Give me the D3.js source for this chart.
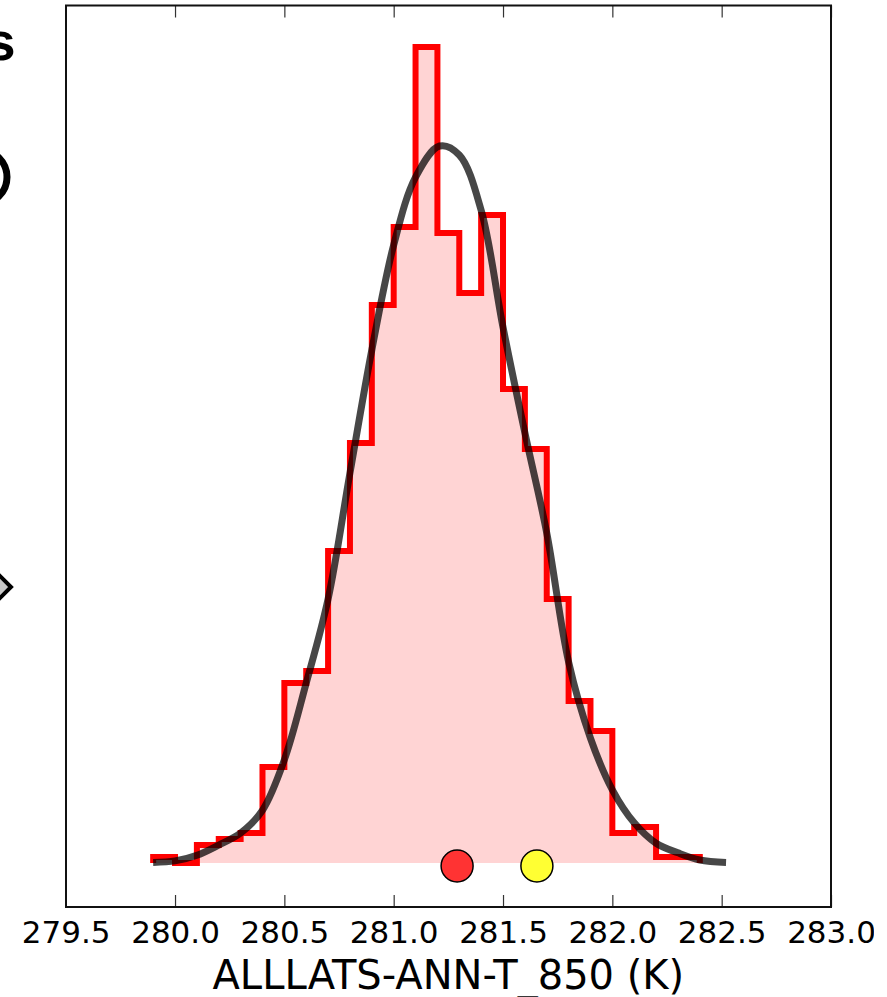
<!DOCTYPE html>
<html><head><meta charset="utf-8">
<script src="https://cdn.jsdelivr.net/npm/d3@7"></script>
<style>html,body{margin:0;padding:0;background:#fff;} svg{display:block;}</style>
</head><body>
<script>
// ---- data ----
const binEdges = [279.9,280.0,280.1,280.2,280.3,280.4,280.5,280.6,280.7,280.8,280.9,281.0,281.1,281.2,281.3,281.4,281.5,281.6,281.7,281.8,281.9,282.0,282.1,282.2,282.3,282.4];
const binCounts = [1,0,3,4,5,16,30,32,52,70,93,106,136,105,95,108,79,69,44,27,22,5,6,1,1];
const fitX = [279.9,280.0,280.1,280.2,280.3,280.4,280.5,280.6,280.7,280.8,280.9,281.0,281.1,281.21,281.3,281.4,281.5,281.6,281.7,281.8,281.9,282.0,282.1,282.2,282.3,282.4,282.52];
const fitY = [0.1,0.35,1.3,3.0,5.0,8.8,17.2,30.0,44.0,65.0,85.5,103.0,114.3,119.5,118.0,108.8,89.3,71.7,55.0,33.5,20.8,12.2,6.7,3.3,1.7,0.5,0.1];
const markerX = [281.29, 281.655];
const markerY = [-0.5, -0.5];
const markerColors = ["#ff3333", "#ffff33"];
const xTicks = [279.5,280.0,280.5,281.0,281.5,282.0,282.5,283.0];
const xLabel = "ALLLATS-ANN-T_850 (K)";

// ---- drawing ----
const W = 874, H = 997;
const svg = d3.select("body").append("svg").attr("width", W).attr("height", H);

const x = d3.scaleLinear().domain([279.5, 283.0]).range([65.7, 831]);
const y = d3.scaleLinear().domain([-7.33, 143]).range([907, 5]);

// fragments of the neighbouring panel (clipped at the left edge)
svg.append("text").attr("x", 15.5).attr("y", 59.5).attr("text-anchor", "end")
  .style("font-family", "'Liberation Sans', Arial, sans-serif").style("font-weight", "bold")
  .style("font-size", "54px").attr("fill", "#000").text("s");
svg.append("circle").attr("cx", -20).attr("cy", 177).attr("r", 27)
  .attr("fill", "none").attr("stroke", "#000").attr("stroke-width", 7);
svg.append("path").attr("d", "M-13,587 L-1,575 L11,587 L-1,599 Z")
  .attr("fill", "#c8c8c8").attr("stroke", "#000").attr("stroke-width", 4);

// histogram step points
const stepPts = [[binEdges[0], 0]];
binCounts.forEach((c, i) => { stepPts.push([binEdges[i], c]); stepPts.push([binEdges[i + 1], c]); });
stepPts.push([binEdges[binEdges.length - 1], 0]);

const line = d3.line().x(d => x(d[0])).y(d => y(d[1]));

// filled histogram
svg.append("path").attr("d", line(stepPts) + "Z")
  .attr("fill", "#ff0000").attr("fill-opacity", 0.17).attr("stroke", "none");
// red outline
svg.append("path").attr("d", line(stepPts))
  .attr("fill", "none").attr("stroke", "#ff0000").attr("stroke-width", 6)
  .attr("stroke-linejoin", "miter");

// fitted curve
const fitLine = d3.line().x(d => x(d[0])).y(d => y(d[1])).curve(d3.curveCatmullRom.alpha(0.5));
svg.append("path").attr("d", fitLine(fitX.map((v, i) => [v, fitY[i]])))
  .attr("fill", "none").attr("stroke", "#000").attr("stroke-opacity", 0.72)
  .attr("stroke-width", 7);

// markers
svg.selectAll("circle.mk").data(markerX).enter().append("circle").attr("class", "mk")
  .attr("cx", d => x(d)).attr("cy", (d, i) => y(markerY[i])).attr("r", 16)
  .attr("fill", (d, i) => markerColors[i]).attr("stroke", "#000").attr("stroke-width", 1.5);

// axes
const fmt = d3.format(".1f");
const bottomAx = svg.append("g").attr("transform", "translate(0,907)")
  .call(d3.axisBottom(x).tickValues(xTicks).tickSize(-12).tickPadding(14).tickFormat(fmt));
const topAx = svg.append("g").attr("transform", "translate(0,5.5)")
  .call(d3.axisTop(x).tickValues(xTicks).tickSize(-12).tickFormat(""));
[bottomAx, topAx].forEach(g => {
  g.select(".domain").remove();
  g.selectAll(".tick line").attr("stroke", "#333").attr("stroke-width", 1.2);
});
bottomAx.selectAll(".tick text").style("font-family", "'DejaVu Sans', sans-serif")
  .style("font-size", "31px").attr("fill", "#000");

// frame
svg.append("rect").attr("x", 66).attr("y", 5.5).attr("width", 765).attr("height", 901.5)
  .attr("fill", "none").attr("stroke", "#111").attr("stroke-width", 2);

// x label
svg.append("text").attr("x", (x.range()[0] + x.range()[1]) / 2).attr("y", 989)
  .attr("text-anchor", "middle").style("font-family", "'DejaVu Sans', sans-serif")
  .style("font-size", "40px").attr("fill", "#000").text(xLabel);
</script>
</body></html>
